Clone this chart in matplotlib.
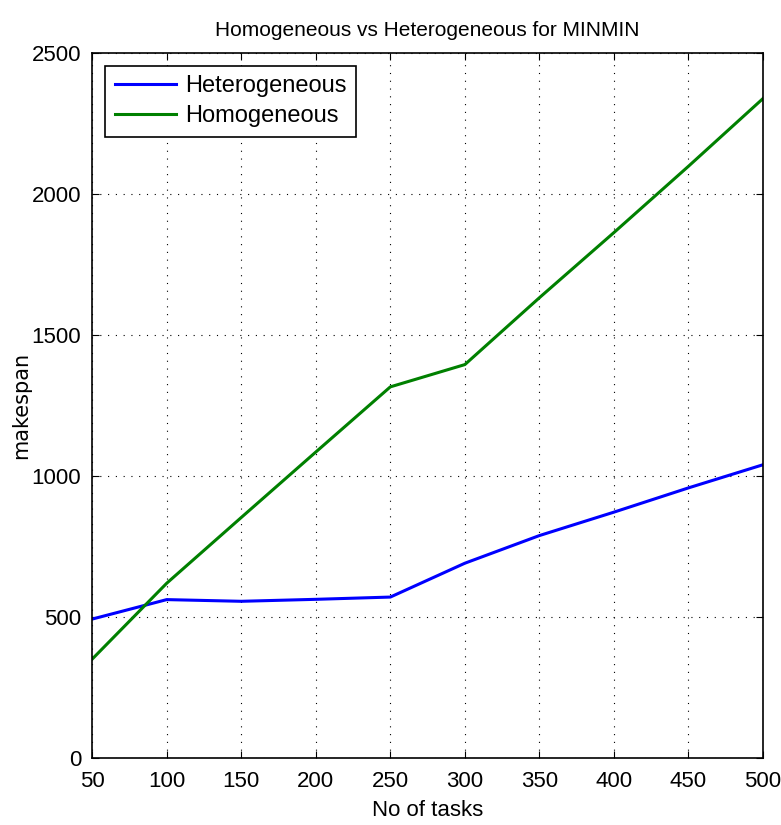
import matplotlib
matplotlib.use("Agg")
import matplotlib.pyplot as plt

plt.rcParams['font.family'] = ['Liberation Sans', 'DejaVu Sans']

tasks = [50, 100, 150, 200, 250, 300, 350, 400, 450, 500]
heterogeneous = [493, 562, 556, 563, 571, 691, 789, 872, 958, 1040]
homogeneous = [351, 620, 853, 1085, 1316, 1395, 1632, 1863, 2098, 2338]

fig = plt.figure(figsize=(7.81, 8.25), dpi=100)
ax = fig.add_axes([0.118, 0.081, 0.859, 0.855])

ax.plot(tasks, heterogeneous, color='blue', lw=2.2, label='Heterogeneous')
ax.plot(tasks, homogeneous, color='green', lw=2.2, label='Homogeneous')

ax.set_xlim(50, 500)
ax.set_ylim(0, 2500)
ax.set_xticks(range(50, 501, 50))
ax.set_yticks(range(0, 2501, 500))
ax.grid(True, color='black', linestyle=(0, (1, 6)), linewidth=0.8)
ax.tick_params(direction='in', top=True, right=True, labelsize=16, length=5)
ax.tick_params(axis='x', pad=9)
ax.tick_params(axis='y', pad=8)
for s in ax.spines.values():
    s.set_linewidth(1.2)

ax.set_title('Homogeneous vs Heterogeneous for MINMIN', fontsize=15, pad=12)
ax.set_xlabel('No of tasks', fontsize=16, labelpad=6)
ax.set_ylabel('makespan', fontsize=15, family='DejaVu Sans', labelpad=0)

leg = ax.legend(loc='upper left', fontsize=17, fancybox=False, framealpha=1,
                edgecolor='black', handlelength=2.6, handletextpad=0.4,
                labelspacing=0.35, borderaxespad=0.55)
leg.get_frame().set_linewidth(1.2)

fig.savefig('out.png', dpi=100)
